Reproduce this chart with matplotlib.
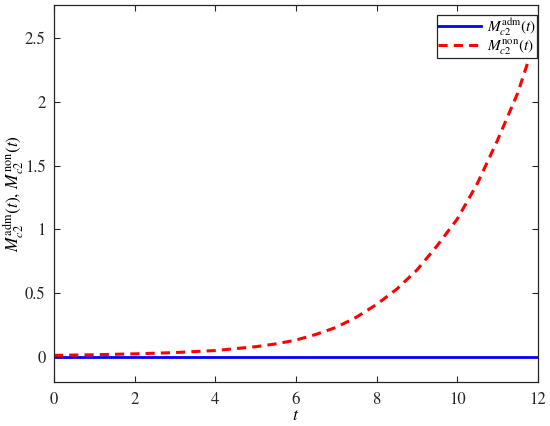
import numpy as np
import matplotlib
matplotlib.use("Agg")
import matplotlib.pyplot as plt

plt.rcParams['font.family'] = ['STIXGeneral', 'DejaVu Serif']
plt.rcParams['mathtext.fontset'] = 'stix'

# values
t = [0, 1, 2, 3, 4, 5, 5.5, 6, 6.5, 7, 7.5, 8, 8.5, 9, 9.5, 10, 10.5,
     11, 11.5, 12]
m_non = [0.01, 0.015, 0.022, 0.032, 0.048, 0.078, 0.10, 0.13, 0.175, 0.23,
         0.31, 0.41, 0.53, 0.68, 0.87, 1.08, 1.36, 1.70, 2.07, 2.55]
t_adm = [0, 3, 6, 9, 12]
m_adm = [0, 0, 0, 0, 0]

xticks = [0, 2, 4, 6, 8, 10, 12]
yticks = [0, 0.5, 1, 1.5, 2, 2.5]
yticklabels = ['0', '0.5', '1', '1.5', '2', '2.5']

fig = plt.figure(figsize=(5.5, 4.26), dpi=100)
ax = fig.add_axes([0.098, 0.103, 0.88, 0.885])

ax.plot(t_adm, m_adm, color='#0000ff', lw=2.0,
        label=r'$M_{c2}^{\mathrm{adm}}(t)$')
ax.plot(t, m_non, color='#ff0000', lw=2.2, ls=(0, (3, 2)),
        label=r'$M_{c2}^{\mathrm{non}}(t)$')

ax.set_xlim(0, 12)
ax.set_ylim(-0.2, 2.76)
ax.set_xticks(xticks)
ax.set_xticklabels([str(v) for v in xticks])
ax.set_yticks(yticks)
ax.set_yticklabels(yticklabels)

ax.tick_params(direction='in', top=True, right=True, length=4.5,
               width=0.8, labelsize=12, colors='#262626')
ax.tick_params(axis='x', pad=7)
ax.tick_params(axis='y', pad=6)
for s in ax.spines.values():
    s.set_linewidth(0.9)
    s.set_color('#262626')

ax.set_xlabel(r'$t$', fontsize=13, labelpad=0)
ax.set_ylabel(r'$M_{c2}^{\mathrm{adm}}(t),\, M_{c2}^{\mathrm{non}}(t)$',
              fontsize=12.5)
ax.yaxis.set_label_coords(-0.058, 0.5)

leg = ax.legend(loc='upper right', bbox_to_anchor=(1.0, 0.975), fontsize=11,
                fancybox=False, framealpha=1, edgecolor='#262626',
                borderpad=0.05, handlelength=2.8, handletextpad=0.4,
                borderaxespad=0.05, labelspacing=0.0)
leg.get_frame().set_linewidth(0.9)

fig.savefig('out.png', dpi=100)
